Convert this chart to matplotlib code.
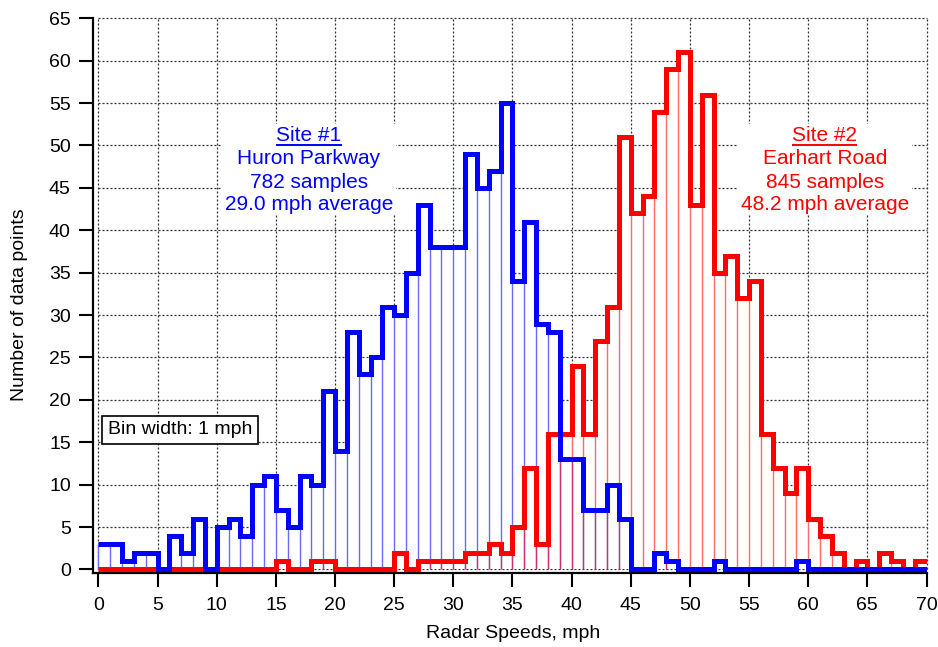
import numpy as np
import matplotlib
matplotlib.use("Agg")
import matplotlib.pyplot as plt
from matplotlib.patches import Rectangle

plt.rcParams['font.family'] = ['Liberation Sans', 'DejaVu Sans']

# 1 mph bins from 0 to 70 mph
bin_edges = np.arange(0, 71, 1)

# Counts per bin, Site #1 (Huron Parkway)
huron_counts = [
    3, 3, 1, 2, 2, 0, 4, 2, 6, 0,
    5, 6, 4, 10, 11, 7, 5, 11, 10, 21,
    14, 28, 23, 25, 31, 30, 35, 43, 38, 38,
    38, 49, 45, 47, 55, 34, 41, 29, 28, 13,
    13, 7, 7, 10, 6, 0, 0, 2, 1, 0,
    0, 0, 1, 0, 0, 0, 0, 0, 0, 1,
    0, 0, 0, 0, 0, 0, 0, 0, 0, 0,
]

# Counts per bin, Site #2 (Earhart Road)
earhart_counts = [
    0, 0, 0, 0, 0, 0, 0, 0, 0, 0,
    0, 0, 0, 0, 0, 1, 0, 0, 1, 1,
    0, 0, 0, 0, 0, 2, 0, 1, 1, 1,
    1, 2, 2, 3, 2, 5, 12, 3, 16, 16,
    24, 16, 27, 31, 51, 42, 44, 54, 59, 61,
    43, 56, 35, 37, 32, 34, 16, 12, 9, 12,
    6, 4, 2, 0, 1, 0, 2, 1, 0, 1,
]

x_ticks = list(range(0, 71, 5))
y_ticks = list(range(0, 66, 5))

site1_lines = ["Site #1", "Huron Parkway", "782 samples", "29.0 mph average"]
site2_lines = ["Site #2", "Earhart Road", "845 samples", "48.2 mph average"]
bin_note = "Bin width: 1 mph"

W, H = 938, 647
fig = plt.figure(figsize=(W / 100, H / 100), dpi=100)
ax = fig.add_axes([93 / W, 1 - 573.3 / H, 833.5 / W, 555 / H])
ax.set_xlim(-0.46, 70)
ax.set_ylim(-0.45, 65)

# dotted grid at the major ticks
grid_kw = dict(color='#333333', lw=0.9, ls=(0, (1.6, 1.6)), zorder=0.3, clip_on=False)
for x in x_ticks:
    ax.plot([x, x], [0, 65], **grid_kw)
for y in y_ticks:
    ax.plot([0, 70], [y, y], **grid_kw)


def edge_heights(counts):
    c = [0] + list(counts) + [0]
    return [max(c[i], c[i + 1]) for i in range(len(counts) + 1)]


# white bar bodies hide the grid, thin lines mark each bin edge
for counts in (huron_counts, earhart_counts):
    ax.stairs(counts, bin_edges, fill=True, color='white', lw=0, zorder=1)
ax.vlines(bin_edges, 0, edge_heights(huron_counts), colors=(0.1, 0.1, 1.0, 0.65), lw=1.0, zorder=2)
ax.vlines(bin_edges, 0, edge_heights(earhart_counts), colors=(1.0, 0.1, 0.1, 0.65), lw=1.0, zorder=2.1)

# thick step outlines
s2 = ax.stairs(earhart_counts, bin_edges, baseline=None, color='#ff0000', lw=3.6, zorder=3)
s1 = ax.stairs(huron_counts, bin_edges, baseline=None, color='#0000ff', lw=3.6, zorder=4)
for s in (s1, s2):
    s.set_joinstyle('miter')

# axes frame
for side in ('top', 'right'):
    ax.spines[side].set_visible(False)
ax.spines['left'].set_bounds(-0.45, 65)
ax.spines['bottom'].set_bounds(-0.46, 70)
for side in ('left', 'bottom'):
    ax.spines[side].set_linewidth(1.6)
ax.set_xticks(x_ticks)
ax.set_yticks(y_ticks)
ax.tick_params(direction='out', length=10, width=1.5, labelsize=14, color='black')
ax.tick_params(axis='x', pad=7)
ax.tick_params(axis='y', pad=6)

fig.text(513 / W, 1 - 634 / H, "Radar Speeds, mph", fontsize=14, ha='center', va='center')
fig.text(20 / W, 1 - 305 / H, "Number of data points", fontsize=14, ha='center', va='center',
         rotation=90)

# site annotations
baselines = [50.5, 47.8, 45.0, 42.4]
t1 = [ax.text(17.8, yb, s, color='#0000ff', fontsize=15, ha='center', va='baseline', zorder=6)
      for s, yb in zip(site1_lines, baselines)]
t2 = [ax.text(61.4, yb, s, color='#ff0000', fontsize=15, ha='center', va='baseline', zorder=6)
      for s, yb in zip(site2_lines, baselines)]

ax.text(6.91, 16.45, bin_note, fontsize=14, ha='center', va='center', zorder=6,
        bbox=dict(boxstyle='square,pad=0.3', facecolor='white', edgecolor='black', lw=1.2))

fig.canvas.draw()
r = fig.canvas.get_renderer()
inv = ax.transData.inverted()
for texts, color in ((t1, '#0000ff'), (t2, '#ff0000')):
    bbs = [t.get_window_extent(r) for t in texts]
    x0 = min(b.x0 for b in bbs) - 3
    x1 = max(b.x1 for b in bbs) + 3
    y0 = min(b.y0 for b in bbs) - 1
    y1 = max(b.y1 for b in bbs) + 2
    (dx0, dy0), (dx1, dy1) = inv.transform([(x0, y0), (x1, y1)])
    ax.add_patch(Rectangle((dx0, dy0), dx1 - dx0, dy1 - dy0, facecolor='white',
                           edgecolor='none', zorder=0.5))
    # underline the heading line
    b = bbs[0]
    base_px = ax.transData.transform((0, baselines[0]))[1]
    (ux0, uy), (ux1, _) = inv.transform([(b.x0, base_px - 3.3), (b.x1, base_px - 3.3)])
    ax.plot([ux0, ux1], [uy, uy], color=color, lw=1.4, solid_capstyle='butt', zorder=6)

fig.savefig("out.png", dpi=100)
